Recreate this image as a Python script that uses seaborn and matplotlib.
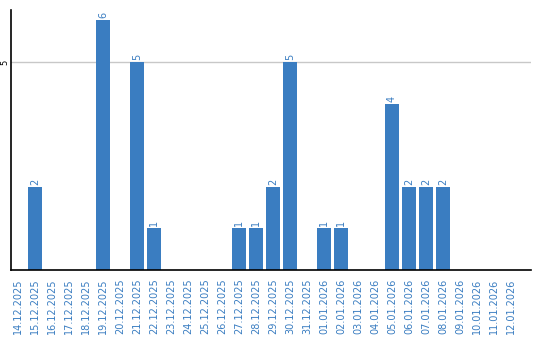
import matplotlib
matplotlib.use("Agg")
import matplotlib.pyplot as plt
import seaborn as sns
import pandas as pd

dates = ["14.12.2025", "15.12.2025", "16.12.2025", "17.12.2025", "18.12.2025",
         "19.12.2025", "20.12.2025", "21.12.2025", "22.12.2025", "23.12.2025",
         "24.12.2025", "25.12.2025", "26.12.2025", "27.12.2025", "28.12.2025",
         "29.12.2025", "30.12.2025", "31.12.2025", "01.01.2026", "02.01.2026",
         "03.01.2026", "04.01.2026", "05.01.2026", "06.01.2026", "07.01.2026",
         "08.01.2026", "09.01.2026", "10.01.2026", "11.01.2026", "12.01.2026"]
counts = [0, 2, 0, 0, 0, 6, 0, 5, 1, 0, 0, 0, 0, 1, 1, 2, 5, 0, 1, 1,
          0, 0, 4, 2, 2, 2, 0, 0, 0, 0]
y_ticks = [5]

BLUE = "#3a7dc1"
TEXT = "#3a7dc1"

sns.set_theme(style="white")
plt.rcParams['font.family'] = ['DejaVu Sans']

df = pd.DataFrame({"date": dates, "count": counts})

fig = plt.figure(figsize=(5.4, 3.4), dpi=100)
ax = fig.add_axes([10.5 / 540, 70 / 340, 520.5 / 540, 260 / 340])
sns.barplot(data=df, x="date", y="count", color=BLUE, saturation=1,
            width=0.82, linewidth=0, ax=ax, order=dates)

for p, v in zip(ax.patches, counts):
    if v > 0:
        ax.text(p.get_x() + p.get_width() / 2, v + 0.05, str(v),
                rotation=90, ha="center", va="bottom", fontsize=7, color=TEXT)

ax.set_ylim(0, 6.25)
ax.set_xlim(-0.44, 30.18)
ax.set_yticks(y_ticks)
ax.set_yticklabels([str(t) for t in y_ticks], rotation=90, va="center", fontsize=6, color="black")
ax.yaxis.grid(True, color="#c8c8c8", linewidth=1)
ax.set_axisbelow(True)
ax.tick_params(axis="y", length=0, pad=1)
ax.tick_params(axis="x", length=0, pad=6, labelsize=7, labelcolor=TEXT, rotation=90)
ax.set_xlabel("")
ax.set_ylabel("")
for s in ["top", "right"]:
    ax.spines[s].set_visible(False)
ax.spines["left"].set_color("black")
ax.spines["bottom"].set_color("black")
ax.spines["left"].set_linewidth(1.2)
ax.spines["bottom"].set_linewidth(1.2)

fig.savefig("out.png", dpi=100)
